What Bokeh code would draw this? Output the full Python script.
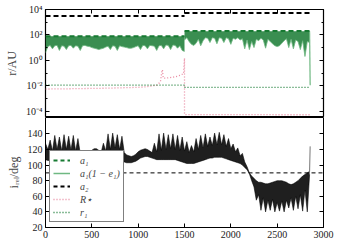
import numpy as np
from bokeh.plotting import figure
from bokeh.layouts import column
from bokeh.models import (FixedTicker, LogAxis, LinearAxis, Span, Legend,
                          LegendItem, Range1d)
from bokeh.embed import file_html
from bokeh.resources import INLINE

FONT = "Liberation Serif"

# ---------------- data: top panel (r / AU) ----------------
x_ticks = [0, 500, 1000, 1500, 2000, 2500, 3000]
r_ticks = [1e-4, 1e-2, 1, 1e2, 1e4]
r_tick_labels = ["10⁻⁴", "10⁻²", "10⁰", "10²", "10⁴"]
r_minor = [1e-5, 1e-3, 1e-1, 10, 1e3]

a1_t = [[0, 1500], [1500, 2850]]
a1_r = [[80, 80], [200, 200]]
a2_t = [[0, 1500], [1500, 2850]]
a2_r = [[3100, 3100], [5300, 5300]]

# a1(1-e1): lower envelope of the oscillating band (AU), two phases
ae_t_pre = list(range(0, 1501, 25))
ae_lo_pre = [4, 12, 15, 8, 14, 15, 6, 14, 13, 7, 14, 15, 9, 14, 13, 6, 14, 15,
             13, 12, 10, 9, 8, 7, 8, 9, 11, 13, 7, 14, 13, 6, 14, 12, 11, 10,
             9, 9, 10, 12, 14, 7, 15, 14, 8, 15, 14, 13, 6, 14, 15, 8, 16, 15,
             7, 16, 15, 9, 14, 6, 5]
ae_top_pre = 78
ae_t_post = list(range(1500, 2851, 25))
ae_lo_post = [40, 60, 30, 18, 15, 22, 45, 14, 35, 60, 55, 25, 60, 55, 20, 60,
              55, 25, 60, 50, 18, 55, 45, 60, 40, 50, 8, 40, 7, 30, 10, 45, 35,
              55, 40, 9, 45, 30, 20, 14, 12, 14, 22, 35, 50, 10, 45, 8, 40, 30,
              7, 35, 2, 30, 25]
ae_top_post = 195
ae_drop_t = [2850, 2856]
ae_drop_r = [190, 0.011]

# stellar radius R*
rs_t = [0, 200, 400, 600, 800, 1000, 1100, 1200, 1240, 1255, 1262, 1270, 1300,
        1400, 1450, 1490, 1500, 1500, 1520, 2850]
rs_r = [0.0055, 0.0057, 0.006, 0.0063, 0.0068, 0.0075, 0.0085, 0.011, 0.02,
        0.12, 0.18, 0.04, 0.04, 0.05, 0.065, 0.09, 1.5, 5.5e-5, 5.3e-5, 5.2e-5]

# r1
r1_t = [[0, 1500], [1500, 2850]]
r1_r = [[0.011, 0.011], [0.0075, 0.0075]]

# ---------------- data: bottom panel (i_rel / deg) ----------------
i_ticks = [20, 40, 60, 80, 100, 120, 140]
ir_t = list(range(0, 2851, 25))
ir_hi = [128, 120, 132, 118, 138, 120, 136, 118, 139, 120, 137, 119, 138, 118,
         134, 115, 114, 113, 114, 116, 119, 121, 121, 119, 116, 128, 118, 140,
         120, 141, 122, 139, 120, 137, 116, 113, 112, 111, 112, 114, 117, 119,
         120, 121, 120, 118, 116, 128, 117, 140, 119, 141, 120, 139, 121, 140,
         120, 138, 119, 136, 118, 130, 116, 125, 117, 134, 120, 138, 122, 140,
         124, 136, 125, 141, 126, 142, 126, 139, 124, 134, 121, 127, 117, 122,
         112, 115, 104, 98, 90, 86, 83, 80, 78, 78, 77, 76, 76, 77, 78, 79, 80,
         80, 80, 79, 78, 76, 75, 76, 78, 80, 83, 86, 88, 90, 92]
ir_lo = [107, 106, 106, 105, 105, 105, 104, 104, 104, 104, 104, 105, 105, 106,
         106, 107, 107, 107, 108, 109, 110, 111, 112, 111, 110, 109, 108, 108,
         107, 107, 107, 106, 106, 105, 104, 103, 103, 103, 104, 105, 107, 109,
         110, 111, 111, 110, 109, 108, 107, 107, 107, 107, 107, 107, 107, 107,
         107, 106, 105, 104, 103, 102, 102, 102, 102, 103, 104, 105, 106, 107,
         108, 109, 109, 110, 110, 110, 110, 109, 108, 107, 106, 105, 104, 103,
         102, 100, 97, 94, 89, 80, 72, 55, 62, 42, 58, 40, 55, 42, 56, 40, 52,
         41, 54, 40, 55, 45, 58, 42, 60, 44, 62, 41, 68, 40, 88]
ir_end_t = [2850, 2856]
ir_end_i = [92, 124]
i_ref = 90

GREEN = "#177a32"
PINK = "#e8879f"
LIGHT_GREEN = "#6fb882"


def style(p):
    p.outline_line_color = "black"
    p.outline_line_width = 1.2
    p.grid.visible = False
    p.background_fill_color = "white"
    p.border_fill_color = "white"
    p.min_border_left = 45
    p.min_border_right = 30


def tick_axis(ax, labels=True):
    ax.major_tick_in = 4
    ax.major_tick_out = 0
    ax.minor_tick_in = 2
    ax.minor_tick_out = 0
    ax.axis_line_color = None
    ax.major_label_text_font = FONT
    ax.major_label_text_font_size = "10px" if labels else "1px"
    ax.major_label_text_alpha = 1.0 if labels else 0.0
    ax.major_label_standoff = 3 if labels else 0
    ax.major_label_text_color = "#222222"


# ---------------- top figure ----------------
p1 = figure(frame_width=278, frame_height=108, y_axis_type="log",
            x_range=Range1d(0, 3000), y_range=Range1d(10 ** -4.5, 1e4),
            output_backend="svg", toolbar_location=None)
style(p1)
p1.min_border_top = 9
p1.min_border_bottom = 0

p1.varea(x=ae_t_pre, y1=ae_lo_pre, y2=ae_top_pre, fill_color=GREEN,
         fill_alpha=0.85)
p1.line(ae_t_pre, ae_lo_pre, line_color=LIGHT_GREEN, line_width=0.8)
p1.varea(x=ae_t_post, y1=ae_lo_post, y2=ae_top_post, fill_color=GREEN,
         fill_alpha=0.85)
p1.line(ae_t_post, ae_lo_post, line_color=LIGHT_GREEN, line_width=0.8)
p1.line(ae_drop_t, ae_drop_r, line_color=LIGHT_GREEN, line_width=1.2)
p1.multi_line(a1_t, a1_r, line_color=GREEN, line_width=2, line_dash="5 3")
p1.multi_line(a2_t, a2_r, line_color="black", line_width=2, line_dash="5 3")
p1.line(rs_t, rs_r, line_color=PINK, line_width=1.3, line_dash="1 2")
p1.multi_line(r1_t, r1_r, line_color=GREEN, line_width=1.3, line_dash="1 2")

p1.xaxis.visible = False
p1.yaxis.ticker = FixedTicker(ticks=r_ticks, minor_ticks=r_minor)
p1.yaxis.major_label_overrides = {t: l for t, l in zip(r_ticks, r_tick_labels)}
tick_axis(p1.yaxis[0])
p1.yaxis.axis_label = "r/AU"
p1.yaxis.axis_label_text_font = FONT
p1.yaxis.axis_label_text_font_style = "normal"
p1.yaxis.axis_label_text_font_size = "12px"
p1.yaxis.axis_label_standoff = 4

ax_r = LogAxis(ticker=FixedTicker(ticks=r_ticks, minor_ticks=r_minor))
tick_axis(ax_r, labels=False)
p1.add_layout(ax_r, "right")
ax_t = LinearAxis(ticker=FixedTicker(ticks=x_ticks))
tick_axis(ax_t, labels=False)
p1.add_layout(ax_t, "above")

# ---------------- bottom figure ----------------
p2 = figure(frame_width=278, frame_height=110,
            x_range=Range1d(0, 3000), y_range=Range1d(20, 161),
            output_backend="svg", toolbar_location=None)
style(p2)
p2.min_border_top = 0
p2.min_border_bottom = 0
p2.outline_line_width = 1

p2.varea(x=ir_t, y1=ir_lo, y2=ir_hi, fill_color="black", fill_alpha=0.88)
p2.line(ir_t, ir_hi, line_color="black", line_width=0.7, line_alpha=0.8)
p2.line(ir_t, ir_lo, line_color="black", line_width=0.7, line_alpha=0.8)
p2.line(ir_end_t, ir_end_i, line_color="#777777", line_width=1)
p2.add_layout(Span(location=i_ref, dimension="width", line_color="black",
                   line_width=1, line_dash="4 3"))

p2.xaxis.ticker = FixedTicker(ticks=x_ticks)
tick_axis(p2.xaxis[0])
p2.yaxis.ticker = FixedTicker(ticks=i_ticks)
tick_axis(p2.yaxis[0])
p2.yaxis.axis_label = "iᵣₑₗ/deg"
p2.yaxis.axis_label_text_font = FONT
p2.yaxis.axis_label_text_font_style = "normal"
p2.yaxis.axis_label_text_font_size = "12px"
p2.yaxis.axis_label_standoff = 4

ax_r2 = LinearAxis(ticker=FixedTicker(ticks=i_ticks))
tick_axis(ax_r2, labels=False)
p2.add_layout(ax_r2, "right")

# legend with proxy glyphs (drawn outside the visible x range)
px = [-500, -400]
py = [50, 50]
g_a1 = p2.line(px, py, line_color=GREEN, line_width=2, line_dash="4 3")
g_ae = p2.line(px, py, line_color=LIGHT_GREEN, line_width=1.5)
g_a2 = p2.line(px, py, line_color="black", line_width=2, line_dash="4 3")
g_rs = p2.line(px, py, line_color=PINK, line_width=1.3, line_dash="1 2")
g_r1 = p2.line(px, py, line_color=GREEN, line_width=1.3, line_dash="1 2")
leg = Legend(items=[LegendItem(label="a₁", renderers=[g_a1]),
                    LegendItem(label="a₁(1 − e₁)", renderers=[g_ae]),
                    LegendItem(label="a₂", renderers=[g_a2]),
                    LegendItem(label="R⋆", renderers=[g_rs]),
                    LegendItem(label="r₁", renderers=[g_r1])],
             location=(4, 5))
leg.label_text_font = FONT
leg.label_text_font_style = "italic"
leg.label_text_font_size = "10px"
leg.label_height = 12
leg.glyph_height = 12
leg.glyph_width = 17
leg.label_standoff = 10
leg.spacing = 1
leg.padding = 3
leg.margin = 0
leg.border_line_color = "black"
leg.border_line_width = 1
leg.background_fill_alpha = 1.0
p2.add_layout(leg, "center")

layout = column(p1, p2, spacing=0)
open("out.html", "w").write(file_html(layout, INLINE))
